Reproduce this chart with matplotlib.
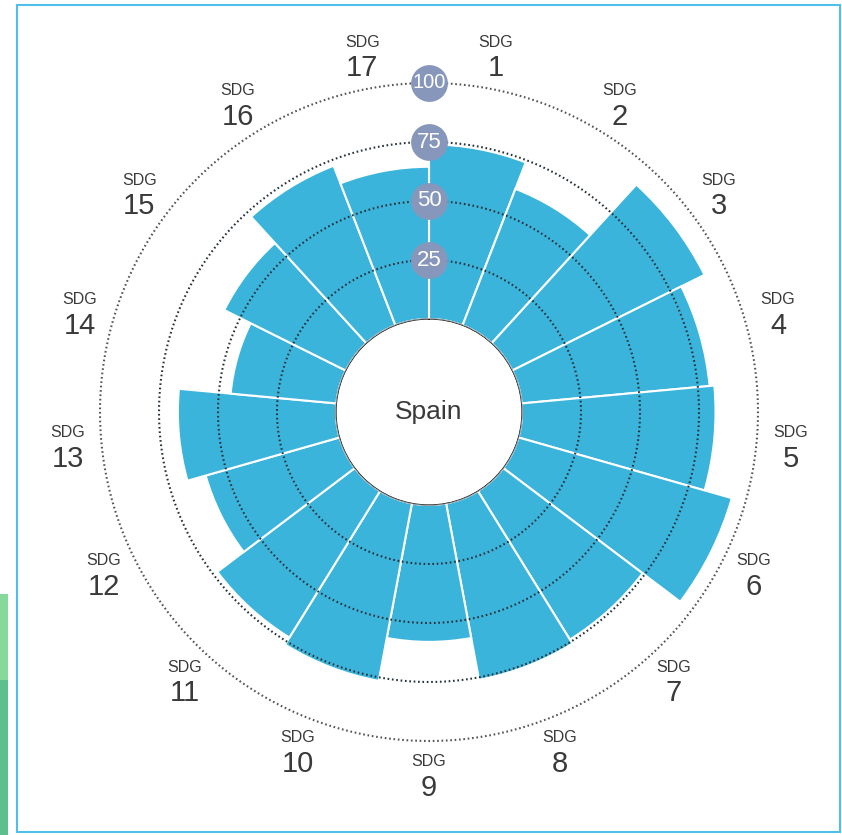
import numpy as np
import matplotlib
matplotlib.use('Agg')
import matplotlib.pyplot as plt
from matplotlib.patches import Rectangle

# ---- data ----
sdg_numbers = [str(i) for i in range(1, 18)]
values = [74, 62, 91, 80, 82, 94, 74, 76, 58, 76.5, 73, 59, 67, 45, 57.5, 72.5, 64.5]
ring_levels = [25, 50, 75, 100]
ring_labels = ['25', '50', '75', '100']
country = 'Spain'

FONT = ['Liberation Sans', 'DejaVu Sans']
TXT = '#3a3a3a'

W, H = 842, 835
fig = plt.figure(figsize=(W / 100, H / 100), dpi=100)
fig.patch.set_facecolor('white')

cx, cy = 429, 412          # centre in pixels (from top)
px_per_unit = 2.36
r0 = 93                    # hole radius in px
rmax = 130
rorig = -r0 / px_per_unit
rad_px = (rmax - rorig) * px_per_unit
ax = fig.add_axes([(cx - rad_px) / W, (H - cy - rad_px) / H, 2 * rad_px / W, 2 * rad_px / H],
                  projection='polar')
ax.set_theta_zero_location('N')
ax.set_theta_direction(-1)
ax.set_ylim(0, rmax)
ax.set_rorigin(rorig)
ax.set_xticks([])
ax.set_yticks([])
ax.grid(False)
ax.spines['polar'].set_visible(False)
ax.patch.set_alpha(0)

n = len(values)
width = 2 * np.pi / n
theta = np.arange(n) * width + width / 2
ax.bar(theta, values, width=width, bottom=0, color='#3bb4dc',
       edgecolor='white', linewidth=1.5, zorder=2)

tt = np.linspace(0, 2 * np.pi, 1441)
for lv in ring_levels:
    col = '#555555' if lv == 100 else '#26323a'
    ax.plot(tt, np.full_like(tt, lv), color=col, lw=1.5, ls=(0, (0.8, 1.3)), zorder=3)

# inner circle edge
ax.plot(tt, np.zeros_like(tt), color='#b4b4b4', lw=0.9, zorder=3)

# ring value labels
ax.plot([0] * len(ring_levels), ring_levels, 'o', ms=26.5, color='#8797bb', mec='none', zorder=4)
for lv, lab in zip(ring_levels, ring_labels):
    ax.text(0, lv, lab, ha='center', va='center', color='white',
            fontsize=14.5 if len(lab) > 2 else 16, family=FONT, zorder=5)

# SDG labels
label_r = 114.4
for th, num in zip(theta, sdg_numbers):
    ax.annotate('SDG', xy=(th, label_r), xytext=(0, 9.5), textcoords='offset points',
                ha='center', va='center', fontsize=11.5, color=TXT, family=FONT,
                annotation_clip=False)
    ax.annotate(num, xy=(th, label_r), xytext=(0, -9.5), textcoords='offset points',
                ha='center', va='center', fontsize=21, color=TXT, family=FONT,
                annotation_clip=False)

# centre text
ax.text(0, rorig, country, ha='center', va='center', fontsize=19, color=TXT, family=FONT)

# frame
fig.add_artist(Rectangle((17 / W, (H - 832) / H), (840 - 17) / W, (832 - 5) / H,
                         transform=fig.transFigure, fill=False, edgecolor='#4fc0ec', lw=1.5))
# green decoration at left
fig.add_artist(Rectangle((0, 0), 8 / W, (H - 680) / H, transform=fig.transFigure,
                         facecolor='#5cbf8c', edgecolor='none'))
fig.add_artist(Rectangle((0, (H - 680) / H), 8 / W, (680 - 594) / H, transform=fig.transFigure,
                         facecolor='#84d99b', edgecolor='none'))

fig.savefig('out.png', dpi=100)
